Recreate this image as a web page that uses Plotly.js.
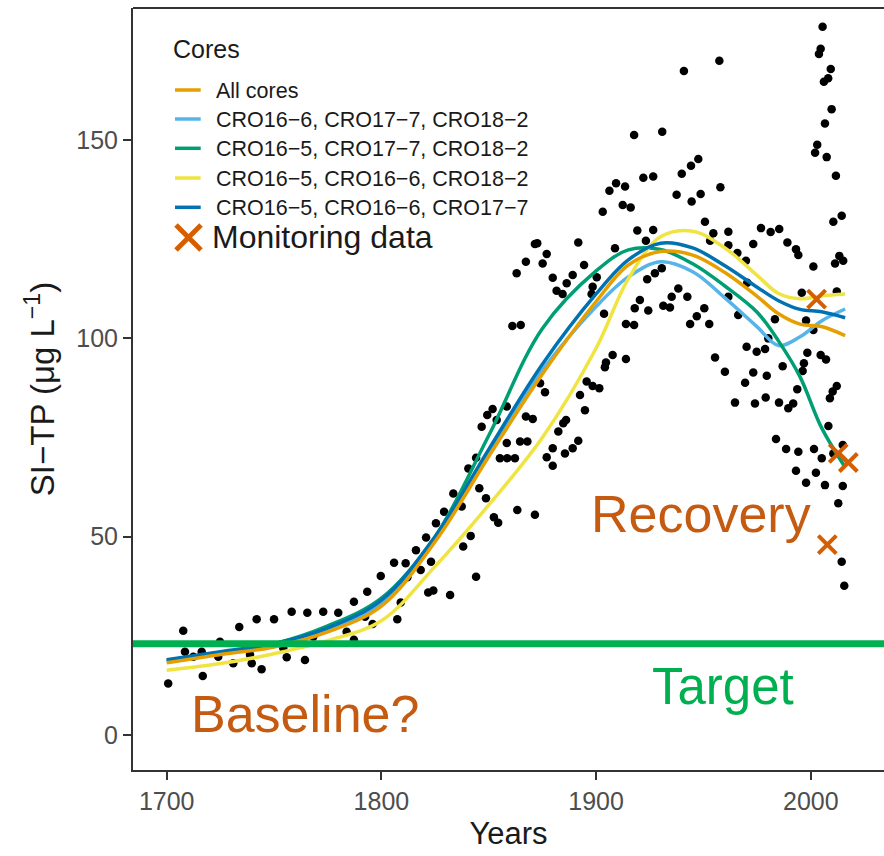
<!DOCTYPE html>
<html>
<head>
<meta charset="utf-8">
<script src="https://cdn.plot.ly/plotly-3.0.1.min.js"></script>
<style>
html,body{margin:0;padding:0;background:#fff;}
#chart{width:884px;height:856px;}
</style>
</head>
<body>
<div id="chart"></div>
<script>
// ---- Sediment-inferred TP: individual core-sample points ----
const pointYears = [
1700.7,1707.7,1708.5,1712.4,1716.8,1716.3,1724.8,1724.0,1731.0,1733.8,1738.8,1739.6,1741.9,1744.2,1750.0,1754.3,1755.9,1758.2,1764.4,1765.5,
1768.3,1772.9,1779.9,1783.8,1787.2,1787.2,1792.4,1793.4,1795.9,1799.7,1805.9,1807.4,1809.0,1811.3,1812.1,1816.1,1818.3,1820.8,1821.8,1824.2,
1823.1,1825.4,1829.2,1832.0,1871.5,1872.6,1891.7,1877.0,1867.3,1875.1,1863.0,1879.8,1894.4,1889.1,1886.3,1881.6,1884.4,1898.4,1897.9,1908.8,
1903.7,1861.0,1864.9,1907.7,1904.6,1904.1,1873.9,1876.2,1895.6,1898.4,1901.5,1892.5,1894.8,1851.8,1849.3,1846.7,1853.7,1858.4,1867.3,1870.5,
1886.0,1884.7,1882.4,1858.4,1864.6,1868.0,1855.2,1858.6,1862.2,1844.1,1840.5,1879.8,1877.0,1879.8,1885.5,1889.1,1891.7,1833.5,1845.6,1848.7,
1837.4,1852.4,1854.4,1863.3,1871.5,1841.6,1838.1,1913.9,1844.1,1957.4,1940.9,1917.7,1930.8,1947.6,1944.2,1939.9,1922.0,1926.6,1909.3,1913.5,
1906.2,1957.9,1937.5,1948.7,1944.5,1912.4,1916.1,1903.1,1950.7,1919.2,1926.6,1954.6,1961.6,1976.8,1923.2,1973.2,1961.6,1965.8,1969.8,1900.3,
1930.6,1927.4,1923.8,1938.3,1935.2,1942.5,1920.4,1931.3,1934.4,1918.0,1924.3,1950.4,1946.9,1913.9,1917.7,1943.8,1952.7,1961.6,1966.2,1970.1,
1974.8,1955.4,1960.0,1973.2,2005.5,2004.6,2003.8,2009.3,2008.1,2006.1,2009.7,2006.6,2003.0,2002.0,2007.4,2011.7,2014.4,2010.5,1953.1,1981.3,
1985.3,1989.1,1993.1,1994.2,2013.3,2011.3,2015.1,2001.2,1970.4,1995.8,2012.1,1983.3,1997.8,2001.2,1980.2,1978.7,1969.4,1979.5,1986.9,1998.4,
2004.6,2007.1,1996.8,1996.2,1993.7,1964.7,1974.0,1979.0,1985.2,1989.5,1991.8,2012.1,2010.2,2008.9,2008.2,1983.8,1988.5,1994.2,2001.5,2005.1,
1993.1,2002.4,1997.8,2006.6,2014.9,2012.8,2014.4,2015.6,2014.9,2010.5
];
const pointValues = [
13.0,26.3,21.0,19.7,14.9,21.0,23.5,19.7,18.1,27.2,20.2,18.1,29.2,16.6,29.2,21.9,19.6,31.1,18.9,30.8,
24.8,31.1,30.8,26.0,33.6,24.0,29.8,36.1,28.0,40.1,43.4,29.2,33.4,43.3,39.8,46.6,41.6,49.8,35.9,36.4,
43.7,53.4,56.3,35.3,123.8,124.0,124.2,121.3,119.3,118.9,116.4,115.3,118.5,116.0,113.9,112.0,111.2,113.0,111.2,122.7,
106.2,103.1,103.4,95.8,93.9,92.7,88.7,86.4,89.1,88.0,87.4,85.7,81.9,82.2,80.7,77.7,79.4,82.8,80.3,79.7,
79.4,78.6,76.5,73.6,74.0,74.0,69.8,69.8,69.8,69.9,67.2,72.3,70.0,67.9,71.0,72.3,74.2,60.9,62.2,59.7,
57.6,54.9,53.5,56.7,55.5,50.2,47.5,94.8,39.9,170.0,167.4,151.3,152.1,145.2,143.5,141.5,140.5,140.8,139.1,138.3,
137.2,138.1,136.2,136.4,134.5,133.6,133.0,131.9,129.4,127.2,127.3,126.5,126.9,127.8,124.6,123.8,123.5,121.5,119.6,115.4,
117.7,116.4,114.9,112.6,110.5,110.5,109.7,108.2,107.8,107.6,107.0,107.6,105.6,103.6,103.4,103.6,103.6,110.5,105.9,97.9,
96.6,95.2,91.6,91.4,178.6,173.0,171.7,167.9,165.6,164.7,157.8,154.2,148.8,146.8,145.7,141.0,130.9,129.4,124.6,126.8,
127.6,124.2,122.5,121.0,120.8,118.9,119.6,118.1,114.0,111.5,111.8,104.8,104.5,102.1,100.0,97.3,88.8,90.6,93.0,96.4,
95.8,94.7,93.7,91.8,87.2,83.8,83.6,85.1,83.8,82.4,83.6,88.0,86.6,84.9,77.9,74.6,72.1,71.4,72.1,69.8,
66.6,66.1,63.6,63.0,62.8,58.4,43.7,37.6,73.1,71.0
];

// ---- Monitoring data ----
const monitorYears  = [2002.7, 2007.7, 2012.8, 2017.5];
const monitorValues = [109.9, 48.0, 71.0, 68.7];

// ---- Smoothed curves per core combination ----
const curveYears = [1700,1725,1750,1775,1800,1825,1850,1875,1900,1915,1930,1945,1960,1975,1985,1995,2005,2016];
const allCores  = [18.2,20.3,22.2,26.0,32.5,48.7,70.2,91.0,109.3,118.5,121.9,121.0,116.6,110.6,106.2,103.6,103.0,100.7];
const cro6_7_2  = [18.6,20.6,22.6,26.5,33.0,49.5,71.5,92.0,108.0,115.5,119.3,116.8,110.2,102.9,98.2,100.4,104.4,107.4];
const cro5_7_2  = [18.8,20.8,23.0,27.5,34.5,50.0,75.5,102.5,117.0,122.3,122.4,118.8,113.2,106.6,99.3,90.3,77.5,67.5];
const cro5_6_2  = [16.3,18.0,20.5,23.8,28.8,42.5,58.0,75.0,97.5,115.0,125.6,127.0,122.8,115.9,111.3,110.0,110.7,111.2];
const cro5_6_7  = [19.0,21.0,23.0,27.0,34.0,50.0,72.0,93.5,111.2,119.8,124.0,122.8,118.3,112.9,109.5,107.3,106.7,105.2];

const seriesNames = ["All cores","CRO16\u22126, CRO17\u22127, CRO18\u22122","CRO16\u22125, CRO17\u22127, CRO18\u22122","CRO16\u22125, CRO16\u22126, CRO18\u22122","CRO16\u22125, CRO16\u22126, CRO17\u22127"];
const seriesColors = ["#E69F00","#56B4E9","#009E73","#F0E442","#0072B2"];
const seriesValues = [allCores, cro6_7_2, cro5_7_2, cro5_6_2, cro5_6_7];

const targetValue = 23;
const xTicks = [1700,1800,1900,2000];
const yTicks = [0,50,100,150];

const FONT = "Liberation Sans, Arial, sans-serif";

// plot area in pixels
const L = 133, R = 884, T = 8, B = 770;
const W = 884, H = 856;
const px = x => (x - L) / (R - L);
const py = y => (B - y) / (B - T);

const traces = [];
traces.push({
  x: pointYears, y: pointValues, type: "scatter", mode: "markers",
  marker: {color: "#000000", size: 8.5}, hoverinfo: "skip", cliponaxis: true
});
// drawing order
const order = [1, 2, 3, 4, 0];
order.forEach(i => {
  traces.push({
    x: curveYears, y: seriesValues[i], type: "scatter", mode: "lines",
    name: seriesNames[i],
    line: {color: seriesColors[i], width: 3.5, shape: "spline", smoothing: 1.0},
    hoverinfo: "skip"
  });
});
traces.push({
  x: monitorYears, y: monitorValues, type: "scatter", mode: "markers",
  marker: {symbol: "x-thin", size: 18, color: "#D55E00", line: {color: "#D55E00", width: 4}},
  hoverinfo: "skip"
});

const shapes = [];
// target line
shapes.push({type: "line", xref: "paper", yref: "y", x0: 0, x1: 1, y0: targetValue, y1: targetValue,
  line: {color: "#00B050", width: 7}, layer: "above"});
// top border
shapes.push({type: "line", xref: "paper", yref: "paper", x0: 0, x1: 1, y0: 1, y1: 1,
  line: {color: "#333333", width: 2}});

const annotations = [];
// legend
annotations.push({xref: "paper", yref: "paper", x: px(171), y: py(49), xanchor: "left", yanchor: "middle",
  text: "Cores", showarrow: false, font: {family: FONT, size: 25, color: "#1a1a1a"}});
const legYs = [91, 120, 149.3, 179, 208.3];
seriesNames.forEach((n, i) => {
  shapes.push({type: "line", xref: "paper", yref: "paper", x0: px(175), x1: px(200.7),
    y0: py(legYs[i] - 1), y1: py(legYs[i] - 1), line: {color: seriesColors[i], width: 3.5}});
  annotations.push({xref: "paper", yref: "paper", x: px(214), y: py(legYs[i]), xanchor: "left", yanchor: "middle",
    text: n, showarrow: false, font: {family: FONT, size: 21.5, color: "#1a1a1a"}});
});
shapes.push({type: "line", xref: "paper", yref: "paper", x0: px(176), x1: px(201), y0: py(225), y1: py(250),
  line: {color: "#D55E00", width: 5}});
shapes.push({type: "line", xref: "paper", yref: "paper", x0: px(176), x1: px(201), y0: py(250), y1: py(225),
  line: {color: "#D55E00", width: 5}});
annotations.push({xref: "paper", yref: "paper", x: px(209.5), y: py(237), xanchor: "left", yanchor: "middle",
  text: "Monitoring data", showarrow: false, font: {family: FONT, size: 32, color: "#1a1a1a"}});

// in-plot labels
annotations.push({xref: "x", yref: "y", x: 1764.4, y: 5.2, xanchor: "center", yanchor: "middle",
  text: "Baseline?", showarrow: false, font: {family: FONT, size: 52, color: "#C55A11"}});
annotations.push({xref: "x", yref: "y", x: 1948.9, y: 55.7, xanchor: "center", yanchor: "middle",
  text: "Recovery", showarrow: false, font: {family: FONT, size: 52, color: "#C55A11"}});
annotations.push({xref: "x", yref: "y", x: 1959.0, y: 12.2, xanchor: "center", yanchor: "middle",
  text: "Target", showarrow: false, font: {family: FONT, size: 51, color: "#00B050"}});

const axisCommon = {
  ticks: "outside", ticklen: 8, tickwidth: 2, tickcolor: "#333333",
  showline: true, linecolor: "#333333", linewidth: 2,
  showgrid: false, zeroline: false,
  tickfont: {family: FONT, size: 25, color: "#4D4D4D"},
  automargin: false, fixedrange: true
};

const layout = {
  width: W, height: H,
  margin: {l: L, r: W - R, t: T, b: H - B, pad: 0},
  paper_bgcolor: "#ffffff", plot_bgcolor: "#ffffff",
  showlegend: false,
  xaxis: Object.assign({}, axisCommon, {
    range: [1684.3, 2034.1], tickmode: "array", tickvals: xTicks, ticktext: xTicks.map(String),
    title: {text: "Years", font: {family: FONT, size: 31, color: "#1a1a1a"}, standoff: 8}
  }),
  yaxis: Object.assign({}, axisCommon, {
    range: [-8.83, 183.3], tickmode: "array", tickvals: yTicks, ticktext: yTicks.map(String),
    title: {text: "SI\u2212TP (\u03bcg L<sup>\u22121</sup>)", font: {family: FONT, size: 33, color: "#1a1a1a"}, standoff: 12}
  }),
  shapes: shapes,
  annotations: annotations
};

Plotly.newPlot("chart", traces, layout, {displayModeBar: false, staticPlot: true});
</script>
</body>
</html>
